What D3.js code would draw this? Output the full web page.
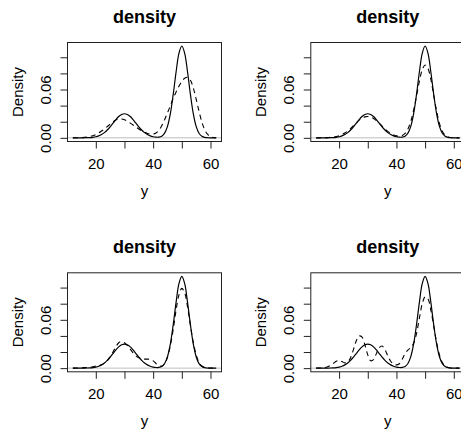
<!DOCTYPE html>
<html>
<head>
<meta charset="utf-8">
<script src="https://cdn.jsdelivr.net/npm/d3@7/dist/d3.min.js"></script>
<style>
  html, body { margin: 0; padding: 0; background: #fff; }
  svg { display: block; }
  text { font-family: "Liberation Sans", Arial, Helvetica, sans-serif; fill: #000; }
</style>
</head>
<body>
<svg id="chart" width="461" height="435"></svg>
<script>
// Evaluation grid (y values)
const yGrid = [12,13,14,15,16,17,18,19,20,21,22,23,24,25,26,27,28,29,30,31,32,33,34,35,36,37,
  38,39,40,41,42,43,44,45,46,47,48,49,50,51,52,53,54,55,56,57,58,59,60,61,62];

// True density (solid line, same in every panel)
const trueDensity = [0,0,0.00001,0.00003,0.00007,0.00015,0.00033,0.00068,0.00131,0.00238,0.00405,
  0.00647,0.00971,0.0137,0.01815,0.02259,0.02641,0.029,0.02992,0.029,0.02641,0.02259,0.01815,0.0137,
  0.00971,0.00647,0.00405,0.00238,0.00134,0.00081,0.00088,0.00207,0.00575,0.01423,0.03008,0.05386,
  0.08168,0.10488,0.11398,0.10488,0.08168,0.05386,0.03007,0.0142,0.00568,0.00192,0.00055,0.00013,
  0.00003,0,0];

// Density estimates (dashed lines), one per panel
const estimateA = [0,0.0001,0.0002,0.0003,0.0006,0.001,0.0017,0.0027,0.0041,0.006,0.0084,0.011,0.014,
  0.017,0.0198,0.0222,0.0235,0.0234,0.0224,0.0205,0.0183,0.016,0.0135,0.011,0.0088,0.0069,0.0055,
  0.0047,0.0046,0.006,0.0095,0.015,0.0225,0.031,0.04,0.049,0.057,0.064,0.07,0.074,0.0752,0.0715,
  0.062,0.048,0.033,0.0195,0.01,0.0042,0.0015,0.0004,0.0001];

const estimateB = [0,0,0.0001,0.0002,0.0003,0.0006,0.001,0.0017,0.0027,0.0041,0.006,0.0085,0.0115,
  0.015,0.0186,0.0219,0.0244,0.026,0.0265,0.0258,0.024,0.0213,0.018,0.0145,0.011,0.008,0.0055,0.0036,
  0.0024,0.002,0.0028,0.0055,0.011,0.0205,0.0345,0.052,0.07,0.0845,0.0905,0.086,0.0725,0.053,0.0335,
  0.018,0.0082,0.0032,0.001,0.0003,0.0001,0,0];

const estimateC = [0,0.0001,0.0002,0.0004,0.0006,0.0009,0.0013,0.0018,0.0025,0.0032,0.0042,0.006,
  0.0092,0.014,0.02,0.0265,0.0315,0.033,0.0315,0.028,0.0235,0.019,0.0153,0.0128,0.0115,0.0112,0.0112,
  0.0108,0.009,0.0058,0.003,0.0025,0.0055,0.0135,0.028,0.048,0.072,0.091,0.099,0.0935,0.076,0.053,
  0.032,0.0165,0.0072,0.0027,0.0009,0.0003,0.0001,0,0];

const estimateD = [0,0.0001,0.0003,0.0008,0.0018,0.0035,0.006,0.0085,0.0095,0.0082,0.0065,0.0075,
  0.013,0.023,0.034,0.04,0.0385,0.029,0.0165,0.0092,0.0105,0.018,0.0255,0.0275,0.023,0.015,0.0085,
  0.005,0.004,0.0055,0.011,0.018,0.0225,0.0255,0.031,0.043,0.062,0.08,0.0885,0.086,0.072,0.052,0.032,
  0.0165,0.007,0.0025,0.0008,0.0002,0,0,0];

const estimates = [estimateA, estimateB, estimateC, estimateD];

// Axis ticks
const xTicks = [20, 30, 40, 50, 60];
const xTickLabels = ["20", "", "40", "", "60"];
const yTicks = [0, 0.02, 0.04, 0.06, 0.08, 0.10];
const yTickLabels = ["0.00", "", "", "0.06", "", ""];

const titleText = "density";
const xLabelText = "y";
const yLabelText = "Density";

// Panel placement (2 x 2 grid)
const colOffsets = [0, 243.3];
const rowOffsets = [0, 230.3];
const box = { left: 67.5, right: 221.5, top: 42.5, bottom: 141.5 };

const svg = d3.select("#chart");

const x = d3.scaleLinear().domain([10.13, 63.84]).range([box.left, box.right]);
const y = d3.scaleLinear().domain([-0.00455, 0.11835]).range([box.bottom, box.top]);

const line = d3.line()
  .x((d, i) => x(yGrid[i]))
  .y(d => y(d))
  .curve(d3.curveCatmullRom.alpha(0.5));

estimates.forEach((est, k) => {
  const g = svg.append("g")
    .attr("transform", `translate(${colOffsets[k % 2]},${rowOffsets[Math.floor(k / 2)]})`);

  const clipId = "clip" + k;
  g.append("clipPath").attr("id", clipId)
    .append("rect")
    .attr("x", box.left).attr("y", box.top)
    .attr("width", box.right - box.left).attr("height", box.bottom - box.top);

  // zero reference line
  g.append("line")
    .attr("x1", box.left).attr("x2", box.right)
    .attr("y1", y(0)).attr("y2", y(0))
    .attr("stroke", "#bebebe").attr("stroke-width", 1);

  const plot = g.append("g").attr("clip-path", `url(#${clipId})`);

  plot.append("path")
    .datum(est)
    .attr("fill", "none")
    .attr("stroke", "#000")
    .attr("stroke-width", 1.1)
    .attr("stroke-dasharray", "5,4")
    .attr("d", line);

  plot.append("path")
    .datum(trueDensity)
    .attr("fill", "none")
    .attr("stroke", "#000")
    .attr("stroke-width", 1.2)
    .attr("d", line);

  // frame
  g.append("rect")
    .attr("x", box.left).attr("y", box.top)
    .attr("width", box.right - box.left).attr("height", box.bottom - box.top)
    .attr("fill", "none").attr("stroke", "#222").attr("stroke-width", 1);

  // x axis
  const xAxis = d3.axisBottom(x)
    .tickValues(xTicks)
    .tickSize(7)
    .tickPadding(0)
    .tickFormat((d, i) => xTickLabels[i]);
  const gx = g.append("g").attr("transform", `translate(0,${box.bottom})`).call(xAxis);
  gx.select(".domain").remove();
  gx.selectAll(".tick line").attr("stroke", "#222");
  gx.selectAll(".tick text")
    .attr("y", 27).attr("dy", null)
    .attr("font-size", 15)
    .attr("font-family", "'Liberation Sans', Arial, sans-serif")
    .attr("fill", "#000");

  // y axis
  const yAxis = d3.axisLeft(y)
    .tickValues(yTicks)
    .tickSize(7)
    .tickFormat((d, i) => yTickLabels[i]);
  const gy = g.append("g").attr("transform", `translate(${box.left},0)`).call(yAxis);
  gy.select(".domain").remove();
  gy.selectAll(".tick line").attr("stroke", "#222");
  gy.selectAll(".tick text")
    .attr("x", null).attr("dy", null)
    .attr("transform", "translate(-16.8,0) rotate(-90)")
    .attr("text-anchor", "middle")
    .attr("font-size", 15)
    .attr("font-family", "'Liberation Sans', Arial, sans-serif")
    .attr("fill", "#000");

  // title
  g.append("text")
    .attr("x", (box.left + box.right) / 2).attr("y", box.top - 20)
    .attr("text-anchor", "middle")
    .attr("font-size", 18).attr("font-weight", "bold")
    .text(titleText);

  // axis labels
  g.append("text")
    .attr("x", (box.left + box.right) / 2).attr("y", box.bottom + 54)
    .attr("text-anchor", "middle")
    .attr("font-size", 15)
    .text(xLabelText);

  g.append("text")
    .attr("transform", `translate(${box.left - 45},${(box.top + box.bottom) / 2}) rotate(-90)`)
    .attr("text-anchor", "middle")
    .attr("font-size", 15)
    .text(yLabelText);
});
</script>
</body>
</html>
